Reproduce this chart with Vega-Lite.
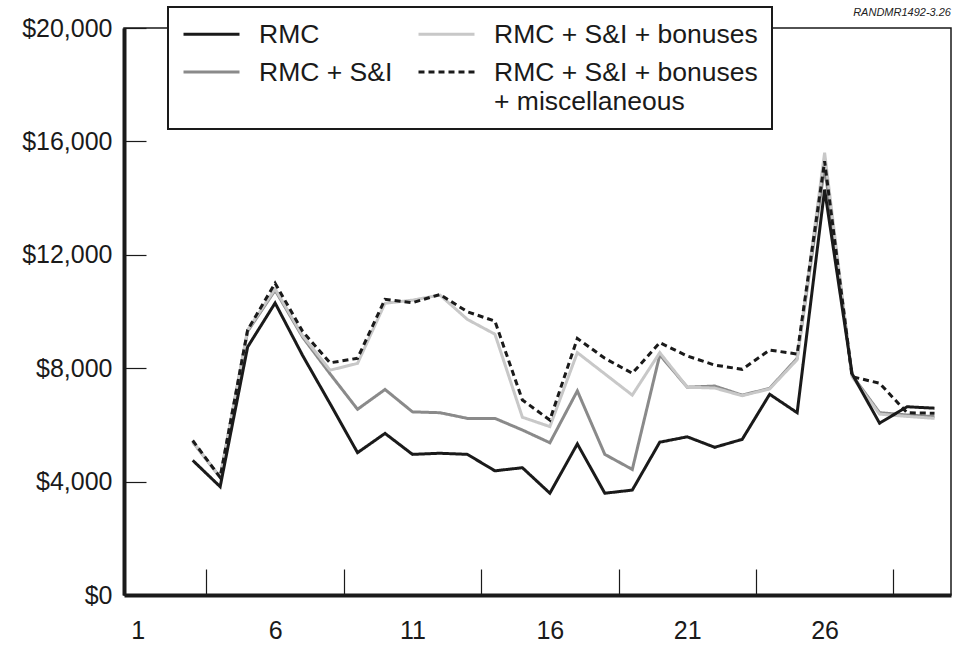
{
  "$schema": "https://vega.github.io/schema/vega-lite/v6.json",
  "width": 827,
  "height": 567,
  "autosize": "none",
  "padding": {"left": 124, "top": 28, "right": 2, "bottom": 50},
  "background": "white",
  "title": {"text": "RANDMR1492-3.26", "anchor": "end", "fontSize": 11, "fontStyle": "italic", "fontWeight": "normal", "font": "Liberation Sans", "color": "#222", "offset": -12},
  "config": {
    "view": {"stroke": "#1a1a1a", "strokeWidth": 1.5},
    "font": "Liberation Sans",
    "axis": {"labelFont": "Liberation Sans", "labelColor": "#1a1a1a", "grid": false, "domainColor": "#1a1a1a", "domainWidth": 4, "tickColor": "#1a1a1a", "tickWidth": 1.2}
  },
  "data": {"values": [
    {"x":3,"s":"RMC + S&I","v":5400},{"x":4,"s":"RMC + S&I","v":4150},{"x":5,"s":"RMC + S&I","v":9300},{"x":6,"s":"RMC + S&I","v":10750},{"x":7,"s":"RMC + S&I","v":9100},{"x":8,"s":"RMC + S&I","v":7800},{"x":9,"s":"RMC + S&I","v":6550},{"x":10,"s":"RMC + S&I","v":7250},{"x":11,"s":"RMC + S&I","v":6460},{"x":12,"s":"RMC + S&I","v":6430},{"x":13,"s":"RMC + S&I","v":6230},{"x":14,"s":"RMC + S&I","v":6230},{"x":15,"s":"RMC + S&I","v":5820},{"x":16,"s":"RMC + S&I","v":5370},{"x":17,"s":"RMC + S&I","v":7200},{"x":18,"s":"RMC + S&I","v":4960},{"x":19,"s":"RMC + S&I","v":4430},{"x":20,"s":"RMC + S&I","v":8470},{"x":21,"s":"RMC + S&I","v":7330},{"x":22,"s":"RMC + S&I","v":7370},{"x":23,"s":"RMC + S&I","v":7050},{"x":24,"s":"RMC + S&I","v":7290},{"x":25,"s":"RMC + S&I","v":8350},{"x":26,"s":"RMC + S&I","v":15100},{"x":27,"s":"RMC + S&I","v":7750},{"x":28,"s":"RMC + S&I","v":6430},{"x":29,"s":"RMC + S&I","v":6350},{"x":30,"s":"RMC + S&I","v":6290},
    {"x":3,"s":"RMC + S&I + bonuses","v":5400},{"x":4,"s":"RMC + S&I + bonuses","v":4150},{"x":5,"s":"RMC + S&I + bonuses","v":9350},{"x":6,"s":"RMC + S&I + bonuses","v":10800},{"x":7,"s":"RMC + S&I + bonuses","v":9150},{"x":8,"s":"RMC + S&I + bonuses","v":7930},{"x":9,"s":"RMC + S&I + bonuses","v":8170},{"x":10,"s":"RMC + S&I + bonuses","v":10290},{"x":11,"s":"RMC + S&I + bonuses","v":10400},{"x":12,"s":"RMC + S&I + bonuses","v":10580},{"x":13,"s":"RMC + S&I + bonuses","v":9720},{"x":14,"s":"RMC + S&I + bonuses","v":9200},{"x":15,"s":"RMC + S&I + bonuses","v":6270},{"x":16,"s":"RMC + S&I + bonuses","v":5940},{"x":17,"s":"RMC + S&I + bonuses","v":8550},{"x":18,"s":"RMC + S&I + bonuses","v":7800},{"x":19,"s":"RMC + S&I + bonuses","v":7050},{"x":20,"s":"RMC + S&I + bonuses","v":8550},{"x":21,"s":"RMC + S&I + bonuses","v":7330},{"x":22,"s":"RMC + S&I + bonuses","v":7300},{"x":23,"s":"RMC + S&I + bonuses","v":7030},{"x":24,"s":"RMC + S&I + bonuses","v":7270},{"x":25,"s":"RMC + S&I + bonuses","v":8300},{"x":26,"s":"RMC + S&I + bonuses","v":15600},{"x":27,"s":"RMC + S&I + bonuses","v":7700},{"x":28,"s":"RMC + S&I + bonuses","v":6380},{"x":29,"s":"RMC + S&I + bonuses","v":6300},{"x":30,"s":"RMC + S&I + bonuses","v":6230},
    {"x":3,"s":"RMC","v":4750},{"x":4,"s":"RMC","v":3820},{"x":5,"s":"RMC","v":8750},{"x":6,"s":"RMC","v":10300},{"x":7,"s":"RMC","v":8450},{"x":8,"s":"RMC","v":6750},{"x":9,"s":"RMC","v":5020},{"x":10,"s":"RMC","v":5700},{"x":11,"s":"RMC","v":4960},{"x":12,"s":"RMC","v":5000},{"x":13,"s":"RMC","v":4960},{"x":14,"s":"RMC","v":4380},{"x":15,"s":"RMC","v":4490},{"x":16,"s":"RMC","v":3590},{"x":17,"s":"RMC","v":5330},{"x":18,"s":"RMC","v":3590},{"x":19,"s":"RMC","v":3700},{"x":20,"s":"RMC","v":5390},{"x":21,"s":"RMC","v":5580},{"x":22,"s":"RMC","v":5210},{"x":23,"s":"RMC","v":5490},{"x":24,"s":"RMC","v":7080},{"x":25,"s":"RMC","v":6430},{"x":26,"s":"RMC","v":14300},{"x":27,"s":"RMC","v":7800},{"x":28,"s":"RMC","v":6060},{"x":29,"s":"RMC","v":6640},{"x":30,"s":"RMC","v":6590},
    {"x":3,"s":"RMC + S&I + bonuses + miscellaneous","v":5450},{"x":4,"s":"RMC + S&I + bonuses + miscellaneous","v":4150},{"x":5,"s":"RMC + S&I + bonuses + miscellaneous","v":9350},{"x":6,"s":"RMC + S&I + bonuses + miscellaneous","v":11000},{"x":7,"s":"RMC + S&I + bonuses + miscellaneous","v":9300},{"x":8,"s":"RMC + S&I + bonuses + miscellaneous","v":8190},{"x":9,"s":"RMC + S&I + bonuses + miscellaneous","v":8350},{"x":10,"s":"RMC + S&I + bonuses + miscellaneous","v":10430},{"x":11,"s":"RMC + S&I + bonuses + miscellaneous","v":10310},{"x":12,"s":"RMC + S&I + bonuses + miscellaneous","v":10600},{"x":13,"s":"RMC + S&I + bonuses + miscellaneous","v":9990},{"x":14,"s":"RMC + S&I + bonuses + miscellaneous","v":9660},{"x":15,"s":"RMC + S&I + bonuses + miscellaneous","v":6880},{"x":16,"s":"RMC + S&I + bonuses + miscellaneous","v":6170},{"x":17,"s":"RMC + S&I + bonuses + miscellaneous","v":9050},{"x":18,"s":"RMC + S&I + bonuses + miscellaneous","v":8350},{"x":19,"s":"RMC + S&I + bonuses + miscellaneous","v":7820},{"x":20,"s":"RMC + S&I + bonuses + miscellaneous","v":8900},{"x":21,"s":"RMC + S&I + bonuses + miscellaneous","v":8430},{"x":22,"s":"RMC + S&I + bonuses + miscellaneous","v":8110},{"x":23,"s":"RMC + S&I + bonuses + miscellaneous","v":7960},{"x":24,"s":"RMC + S&I + bonuses + miscellaneous","v":8640},{"x":25,"s":"RMC + S&I + bonuses + miscellaneous","v":8500},{"x":26,"s":"RMC + S&I + bonuses + miscellaneous","v":15300},{"x":27,"s":"RMC + S&I + bonuses + miscellaneous","v":7700},{"x":28,"s":"RMC + S&I + bonuses + miscellaneous","v":7470},{"x":29,"s":"RMC + S&I + bonuses + miscellaneous","v":6430},{"x":30,"s":"RMC + S&I + bonuses + miscellaneous","v":6410}
  ]},
  "mark": {"type": "line", "strokeWidth": 3, "strokeJoin": "miter", "strokeMiterLimit": 4},
  "encoding": {
    "x": {"field": "x", "type": "quantitative",
      "scale": {"domain": [0.5, 30.6], "nice": false, "zero": false},
      "axis": {"title": null, "values": [1,3.5,6,8.5,11,13.5,16,18.5,21,23.5,26,28.5],
        "labelExpr": "datum.value % 1 == 0 ? datum.label : ''",
        "tickOpacity": {"condition": {"test": "datum.value % 1 != 0", "value": 1}, "value": 0},
        "tickSize": -26, "labelFontSize": 25, "labelPadding": 49, "format": "d"}},
    "y": {"field": "v", "type": "quantitative",
      "scale": {"domain": [0, 20000], "nice": false},
      "axis": {"title": null, "values": [0,4000,8000,12000,16000,20000], "format": "$,.0f",
        "tickSize": -22, "labelFontSize": 25, "labelPadding": 34}},
    "color": {"field": "s", "type": "nominal",
      "scale": {"domain": ["RMC", "RMC + S&I", "RMC + S&I + bonuses", "RMC + S&I + bonuses + miscellaneous"],
                "range": ["#1a1a1a", "#8a8a8a", "#c8c8c8", "#1a1a1a"]},
      "legend": {"title": null, "orient": "none", "legendX": 44, "legendY": -21, "columns": 2,
        "labelExpr": "datum.label == 'RMC + S&I + bonuses + miscellaneous' ? ['RMC + S&I + bonuses\u00a0\u00a0', '+ miscellaneous'] : datum.label == 'RMC + S&I + bonuses' ? 'RMC + S&I + bonuses\u00a0\u00a0' : datum.label",
        "labelFontSize": 26.5, "labelFont": "Liberation Sans", "labelColor": "#1a1a1a", "labelLimit": 400,
        "labelBaseline": "alphabetic", "labelOffset": 18,
        "symbolType": "stroke", "symbolSize": 3136, "symbolStrokeWidth": 3,
        "clipHeight": 26, "rowPadding": 10, "columnPadding": 24,
        "padding": 14, "fillColor": "white", "strokeColor": "#1a1a1a",
        "encoding": {"labels": {"dy": {"value": 9}}, "legend": {"strokeWidth": {"value": 2}}}}},
    "strokeDash": {"field": "s", "type": "nominal",
      "scale": {"domain": ["RMC", "RMC + S&I", "RMC + S&I + bonuses", "RMC + S&I + bonuses + miscellaneous"],
                "range": [[1,0],[1,0],[1,0],[6,4]]},
      "legend": {"title": null, "orient": "none", "legendX": 44, "legendY": -21, "columns": 2,
        "labelExpr": "datum.label == 'RMC + S&I + bonuses + miscellaneous' ? ['RMC + S&I + bonuses\u00a0\u00a0', '+ miscellaneous'] : datum.label == 'RMC + S&I + bonuses' ? 'RMC + S&I + bonuses\u00a0\u00a0' : datum.label",
        "labelFontSize": 26.5, "labelFont": "Liberation Sans", "labelColor": "#1a1a1a", "labelLimit": 400,
        "labelBaseline": "alphabetic", "labelOffset": 18,
        "symbolType": "stroke", "symbolSize": 3136, "symbolStrokeWidth": 3,
        "clipHeight": 26, "rowPadding": 10, "columnPadding": 24,
        "padding": 14, "fillColor": "white", "strokeColor": "#1a1a1a",
        "encoding": {"labels": {"dy": {"value": 9}}, "legend": {"strokeWidth": {"value": 2}}}}}
  }
}
